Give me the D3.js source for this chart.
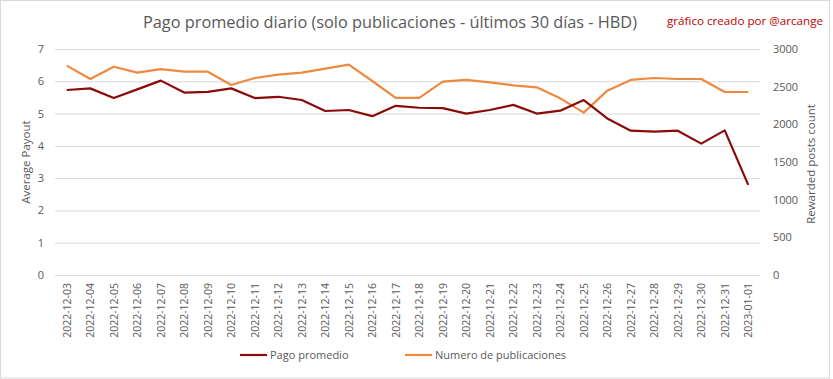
<!DOCTYPE html>
<html>
<head>
<meta charset="utf-8">
<script src="https://cdn.jsdelivr.net/npm/d3@7"></script>
<style>
  html, body { margin: 0; padding: 0; background: #fff; }
  svg { display: block; }
  text { font-family: "Open Sans", "Noto Sans", sans-serif; }
</style>
</head>
<body>
<svg id="chart" width="833" height="379"></svg>
<script>
const dates = ["2022-12-03","2022-12-04","2022-12-05","2022-12-06","2022-12-07","2022-12-08","2022-12-09","2022-12-10","2022-12-11","2022-12-12","2022-12-13","2022-12-14","2022-12-15","2022-12-16","2022-12-17","2022-12-18","2022-12-19","2022-12-20","2022-12-21","2022-12-22","2022-12-23","2022-12-24","2022-12-25","2022-12-26","2022-12-27","2022-12-28","2022-12-29","2022-12-30","2022-12-31","2023-01-01"];
const pagoPromedio = [5.73,5.78,5.48,5.75,6.02,5.65,5.67,5.78,5.48,5.52,5.42,5.08,5.11,4.92,5.24,5.18,5.17,5.0,5.11,5.27,5.0,5.09,5.42,4.85,4.47,4.44,4.47,4.07,4.48,2.79];
const numeroPublicaciones = [2779,2602,2765,2686,2734,2699,2699,2522,2615,2659,2686,2739,2792,2575,2350,2350,2566,2589,2558,2518,2491,2345,2155,2447,2589,2615,2602,2602,2429,2429];
const leftTicks = [0,1,2,3,4,5,6,7];
const rightTicks = [0,500,1000,1500,2000,2500,3000];
const seriesNames = ["Pago promedio","Numero de publicaciones"];
const title = "Pago promedio diario (solo publicaciones - últimos 30 días - HBD)";
const credit = "gráfico creado por @arcange";
const leftTitle = "Average Payout";
const rightTitle = "Rewarded posts count";

const svg = d3.select("#chart");
const W = 833, H = 379;
const plot = {left: 55, right: 760, top: 49, bottom: 275};
const colDark = "#8b0a0a", colOrange = "#ed8a3f", txt = "#595959", grid = "#d9d9d9";

// outer border
svg.append("rect").attr("x", 0.5).attr("y", 0.5).attr("width", W - 4).attr("height", H - 1.5)
  .attr("fill", "#fff").attr("stroke", "#d9d9d9").attr("stroke-width", 1);

const x = d3.scaleBand().domain(dates).range([plot.left, plot.right]).padding(0);
const yL = d3.scaleLinear().domain([0, 7]).range([plot.bottom, plot.top]);
const yR = d3.scaleLinear().domain([0, 3000]).range([plot.bottom, plot.top]);
const cx = d => x(d) + x.bandwidth() / 2;

// gridlines + left axis
const gL = svg.append("g").attr("transform", `translate(${plot.left},0)`)
  .call(d3.axisLeft(yL).tickValues(leftTicks).tickSize(-(plot.right - plot.left)).tickPadding(11).tickFormat(d3.format("d")));
gL.select(".domain").remove();
gL.selectAll(".tick line").attr("stroke", grid).attr("stroke-width", 1);
gL.selectAll(".tick text").attr("fill", txt).style("font-size", "11px").style("font-family", "Open Sans, sans-serif");

// right axis
const gR = svg.append("g").attr("transform", `translate(${plot.right},0)`)
  .call(d3.axisRight(yR).tickValues(rightTicks).tickSize(0).tickPadding(13).tickFormat(d3.format("d")));
gR.select(".domain").remove();
gR.selectAll(".tick text").attr("fill", txt).style("font-size", "11px").style("font-family", "Open Sans, sans-serif");

// x axis
const gX = svg.append("g").attr("transform", `translate(0,${plot.bottom})`)
  .call(d3.axisBottom(x).tickSize(0).tickPadding(0));
gX.select(".domain").attr("stroke", grid);
gX.selectAll(".tick text")
  .attr("fill", txt).style("font-size", "10.5px").style("font-family", "Open Sans, sans-serif")
  .attr("text-anchor", "end").attr("transform", "translate(4,8) rotate(-90)").attr("dy", 0).attr("y", 0).attr("x", 0);

// lines
const lineL = d3.line().x((d, i) => cx(dates[i])).y(d => yL(d));
const lineR = d3.line().x((d, i) => cx(dates[i])).y(d => yR(d));
svg.append("path").datum(numeroPublicaciones).attr("d", lineR)
  .attr("fill", "none").attr("stroke", colOrange).attr("stroke-width", 2.2).attr("stroke-linejoin", "round");
svg.append("path").datum(pagoPromedio).attr("d", lineL)
  .attr("fill", "none").attr("stroke", colDark).attr("stroke-width", 2.2).attr("stroke-linejoin", "round");

// titles
svg.append("text").attr("x", 143).attr("y", 28).text(title)
  .attr("fill", txt).style("font-size", "16px").attr("textLength", 494).attr("lengthAdjust", "spacingAndGlyphs");
svg.append("text").attr("x", 667).attr("y", 25).text(credit)
  .attr("fill", "#c00000").style("font-size", "11px").attr("textLength", 156).attr("lengthAdjust", "spacingAndGlyphs");

svg.append("text").attr("transform", `translate(30,${(plot.top + plot.bottom) / 2}) rotate(-90)`)
  .attr("text-anchor", "middle").attr("fill", txt).style("font-size", "11.5px").text(leftTitle);
svg.append("text").attr("transform", `translate(815,${(plot.top + plot.bottom) / 2 + 2}) rotate(-90)`)
  .attr("text-anchor", "middle").attr("fill", txt).style("font-size", "11.5px").text(rightTitle);

// legend
const legend = [
  {name: seriesNames[0], color: colDark, x: 240},
  {name: seriesNames[1], color: colOrange, x: 405}
];
const lg = svg.append("g").selectAll("g").data(legend).join("g")
  .attr("transform", d => `translate(${d.x},355)`);
lg.append("line").attr("x1", 0).attr("x2", 27).attr("y1", 0).attr("y2", 0)
  .attr("stroke", d => d.color).attr("stroke-width", 2.2);
lg.append("text").attr("x", 30).attr("y", 4).attr("fill", txt).style("font-size", "11px").text(d => d.name);
</script>
</body>
</html>
